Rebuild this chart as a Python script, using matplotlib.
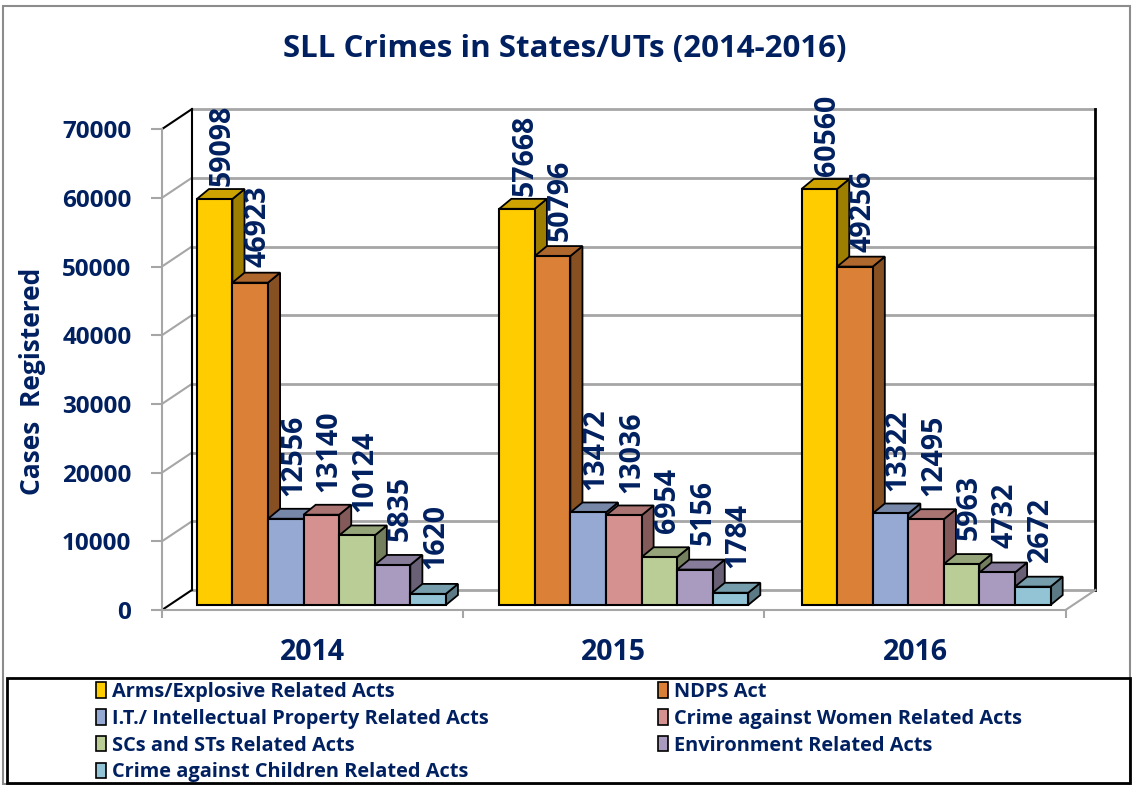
import numpy as np
import matplotlib.pyplot as plt
from matplotlib.patches import Polygon, Rectangle, Patch
from matplotlib.colors import to_rgb

plt.rcParams['font.family'] = ['Open Sans', 'DejaVu Sans']

# data
years = ['2014', '2015', '2016']
acts = ['Arms/Explosive Related Acts', 'NDPS Act',
        'I.T./ Intellectual Property Related Acts', 'Crime against Women Related Acts',
        'SCs and STs Related Acts', 'Environment Related Acts',
        'Crime against Children Related Acts']
arms = [59098, 57668, 60560]
ndps = [46923, 50796, 49256]
it_ip = [12556, 13472, 13322]
women = [13140, 13036, 12495]
sc_st = [10124, 6954, 5963]
environment = [5835, 5156, 4732]
children = [1620, 1784, 2672]
series = [arms, ndps, it_ip, women, sc_st, environment, children]
colors = ['#FFCC00', '#DA8137', '#95A9D2', '#D4918F', '#BBCD97', '#A99BBF', '#92C4D6']
y_ticks = np.arange(0, 70001, 10000)

navy = '#002060'
grid_c = '#A6A6A6'

# fake 3d geometry (data units)
group_step = 8.5
bar_dx, bar_dy = 0.34, 1450      # bar depth
wall_dx, wall_dy = 0.84, 2911    # floor depth
drop = 728                       # front of floor sits below bar base
x0, x1 = -0.98, 24.42            # front edge of floor

fig = plt.figure(figsize=(11.32, 7.85), dpi=100)
ax = fig.add_axes([140 / 1132, (785 - 625) / 785, 970 / 1132, 530 / 785])
ax.set_xlim(-1.598, 25.67)
ax.set_ylim(-2911, 74236)

# back wall + side wall
bx0, bx1 = x0 + wall_dx, x1 + wall_dx
for v in y_ticks:
    ax.plot([bx0, bx1], [v - drop + wall_dy] * 2, color=grid_c, lw=2, zorder=1)
    edge = 'black' if v in (0, 70000) else grid_c
    ax.plot([x0, bx0], [v - drop, v - drop + wall_dy], color=edge, lw=1.5, zorder=1)
ax.plot([bx0, bx0], [-drop + wall_dy, 70000 - drop + wall_dy], color='black', lw=1.5, zorder=1)
ax.plot([bx1, bx1], [-drop + wall_dy, 70000 - drop + wall_dy], color='black', lw=2, zorder=1)
ax.plot([x1, bx1], [-drop, -drop + wall_dy], color=grid_c, lw=1.5, zorder=1)

# bars
for g in range(len(years)):
    for i, vals in enumerate(series):
        v = vals[g]
        x = g * group_step + i
        base = np.array(to_rgb(colors[i]))
        z = 3 + g * 10 + i
        side = Polygon([(x + 1, 0), (x + 1 + bar_dx, bar_dy), (x + 1 + bar_dx, v + bar_dy), (x + 1, v)],
                       facecolor=base * 0.62, edgecolor='black', lw=1.3, zorder=z)
        top = Polygon([(x, v), (x + bar_dx, v + bar_dy), (x + 1 + bar_dx, v + bar_dy), (x + 1, v)],
                      facecolor=base * 0.8, edgecolor='black', lw=1.3, zorder=z)
        ax.add_patch(side)
        ax.add_patch(top)
        ax.bar(x, v, width=1, align='edge', color=colors[i], edgecolor='black', lw=1.5, zorder=z)
        # label gap shrinks a little for tall bars (perspective)
        gap = 3700 - 0.031 * v
        ax.text(x + 0.72, v + gap, str(v), rotation=90, ha='center', va='bottom',
                fontsize=20.5, fontweight='bold', color=navy, zorder=50)

# axes
for s in ['top', 'right']:
    ax.spines[s].set_visible(False)
ax.spines['left'].set_position(('data', x0))
ax.spines['left'].set_bounds(-drop, 70000 - drop)
ax.spines['bottom'].set_position(('data', -drop))
ax.spines['bottom'].set_bounds(x0, x1)
for s in ['left', 'bottom']:
    ax.spines[s].set_color(grid_c)
    ax.spines[s].set_linewidth(1.5)

ax.set_yticks(y_ticks - drop)
ax.set_yticklabels([str(t) for t in y_ticks], fontweight='bold')
ax.tick_params(axis='y', length=8, width=1.5, color=grid_c, labelsize=17.5, labelcolor=navy, pad=14)

seg = (x1 - x0) / len(years)
ax.set_xticks([x0 + seg * (k + 0.5) for k in range(len(years))])
ax.set_xticklabels(years, fontweight='bold')
ax.set_xticks([x0 + seg * k for k in range(len(years) + 1)], minor=True)
ax.tick_params(axis='x', which='major', length=0, labelsize=20.5, labelcolor=navy, pad=20)
ax.tick_params(axis='x', which='minor', length=6, width=1.5, color=grid_c)

fig.text(565 / 1132, 1 - 49 / 785, 'SLL Crimes in States/UTs (2014-2016)', ha='center', va='center',
         fontsize=22.5, fontweight='bold', color=navy)
fig.text(33 / 1132, 1 - 381 / 785, 'Cases  Registered', rotation=90, ha='center', va='center',
         fontsize=19, fontweight='bold', color=navy)

# frames
fig.add_artist(Rectangle((3 / 1132, 1 / 785), 1127 / 1132, 778 / 785, transform=fig.transFigure,
                         fill=False, edgecolor='#8C8C8C', lw=1.5))
fig.add_artist(Rectangle((7 / 1132, 2 / 785), 1123 / 1132, 105 / 785, transform=fig.transFigure,
                         fill=False, edgecolor='black', lw=2))

handles = [Patch(facecolor=c, edgecolor='black', lw=1.2) for c in colors]
order1 = [0, 2, 4, 6]
order2 = [1, 3, 5]
for order, xpos in [(order1, 96 / 1132), (order2, 658 / 1132)]:
    leg = fig.legend([handles[k] for k in order], [acts[k] for k in order], loc='upper left',
                     bbox_to_anchor=(xpos, 1 - 682 / 785), frameon=False, borderpad=0, borderaxespad=0,
                     handlelength=0.5, handleheight=0.8, handletextpad=0.3, labelspacing=0.34,
                     prop={'size': 14.4, 'weight': 'bold'}, labelcolor=navy)

fig.savefig('out.png', dpi=100)
